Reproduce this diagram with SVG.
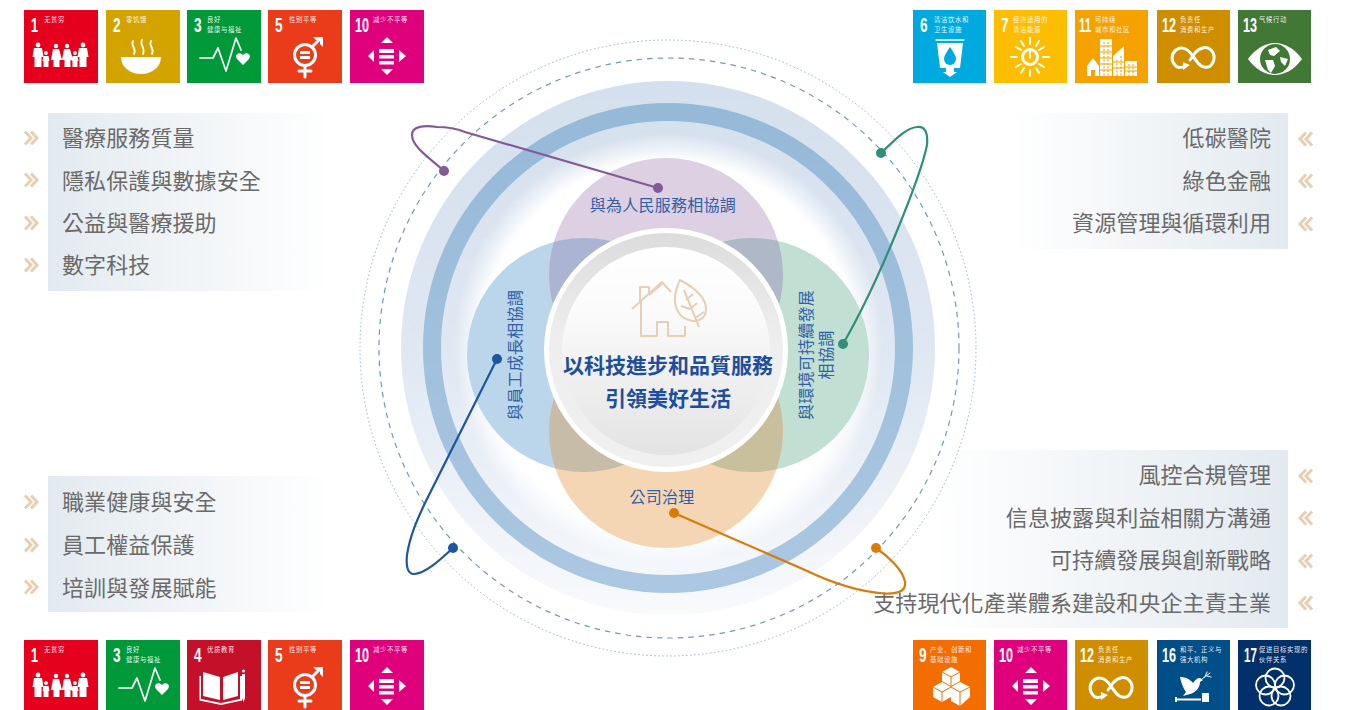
<svg xmlns="http://www.w3.org/2000/svg" width="1348" height="710" viewBox="0 0 1348 710">
<style>
text{font-family:"Noto Sans CJK TC","Noto Sans CJK SC","Liberation Sans",sans-serif}
.n{font-family:"Liberation Sans",Arial,sans-serif;font-weight:700;font-size:21px;fill:#fff}
.l{font-family:"Noto Sans CJK SC","Noto Sans",sans-serif;font-size:6.400px;letter-spacing:.6px;fill:#fff;fill-opacity:.92}
.t{font-size:22px;letter-spacing:.1px;fill:#6a6a6a}
.e{text-anchor:end}
.v{font-size:16px;letter-spacing:.25px;fill:#2f5fa5;text-anchor:middle}
.c{font-size:21px;font-weight:700;fill:#1e4f9e;text-anchor:middle}
.ch{fill:none;stroke:#e8cfb4;stroke-width:3}
.w{fill:#fff}
.s{fill:none;stroke:#fff;stroke-linecap:round;stroke-linejoin:round}
.cn{fill:none;stroke-width:2.200;stroke-linecap:round}
</style>
<defs>
<linearGradient id="pl" x1="0" x2="1" y1="0" y2="0"><stop offset="0" stop-color="#e3eaef"/><stop offset="1" stop-color="#fff"/></linearGradient>
<linearGradient id="pr" x1="1" x2="0" y1="0" y2="0"><stop offset="0" stop-color="#e3eaef"/><stop offset="1" stop-color="#fff"/></linearGradient>
<linearGradient id="band" x1="0" x2="0" y1="0" y2="1"><stop offset="0" stop-color="#d4e0ed"/><stop offset=".5" stop-color="#dfe7f2"/><stop offset="1" stop-color="#f8fafc"/></linearGradient>
<radialGradient id="halo" gradientUnits="userSpaceOnUse" cx="668" cy="348" r="268"><stop offset="0" stop-color="#fff"/><stop offset=".7" stop-color="#fff"/><stop offset=".8" stop-color="#fff" stop-opacity="0"/><stop offset="1" stop-color="#fff" stop-opacity="0"/></radialGradient>
<linearGradient id="ringG" x1="0" x2="0" y1="0" y2="1"><stop offset="0" stop-color="#96b9d8"/><stop offset="1" stop-color="#abc7e1"/></linearGradient>
<linearGradient id="rim" x1="0" x2="0" y1="0" y2="1"><stop offset="0" stop-color="#dcdcdc"/><stop offset=".45" stop-color="#eeeeee"/><stop offset="1" stop-color="#f0f0f0"/></linearGradient>
<linearGradient id="core" x1="0" x2="0" y1="0" y2="1"><stop offset="0" stop-color="#fff"/><stop offset=".3" stop-color="#fbfbfb"/><stop offset="1" stop-color="#e3e3e3"/></linearGradient>
<clipPath id="cT"><circle cx="666" cy="275" r="117"/></clipPath>
<clipPath id="cB"><circle cx="666" cy="431" r="117"/></clipPath>
<g id="chev"><path class="ch" d="M-7 -6.500L-1 0L-7 6.500M-1 -6.500L5 0L-1 6.500"/></g>
<g id="i1"><g class="w"><circle cx="14" cy="35" r="2.400"/><path d="M10 38h8l1.500 9h-2v10h-7V47h-2z"/><circle cx="32" cy="36" r="2.200"/><path d="M29 39h6l3 11h-2.500v7h-6V50H27z"/><circle cx="43" cy="36" r="2.200"/><path d="M40 39h6l3 11h-2.500v7h-6V50H38z"/><circle cx="59" cy="35" r="2.400"/><path d="M55 38h8l1.500 9h-2v10h-7V47h-2z"/><circle cx="22" cy="43" r="1.900"/><path d="M19.500 46h5l1 5h-1v6h-5v-6h-1z"/><circle cx="51" cy="43" r="1.900"/><path d="M48.500 46h5l1 5h-1v6h-5v-6h-1z"/></g></g>
<g id="i2"><path class="w" d="M15 47H55C55 57 46 64 35 64S15 57 15 47Z"/><path class="s" stroke-width="1.800" d="M27 31c-3 5 4 7 1 13M36 30c-3 5 4 8 1 14M45 31c-3 5 4 7 1 13"/></g>
<g id="i3"><path class="s" stroke-width="1.700" d="M13 48H26L31 38L39 61L49 28L54 40"/><path class="w" d="M56 55L50 49C47 45 52 41 56 45C60 41 65 45 62 49Z"/></g>
<g id="i4"><path class="w" d="M16 32L33 37V60L16 56ZM51 32L36 37V60L51 56ZM14 36V59L34 63L53 59V36H55V60.500L34 65L12.500 60.500V36Z"/><path class="w" d="M55 34h3v24l-1.500 4-1.500-4z"/><circle class="w" cx="56.500" cy="31" r="1.500"/></g>
<g id="i5"><circle class="s" stroke-width="3" cx="37" cy="45" r="10.500"/><path class="w" d="M32 41h10v3H32zM32 46h10v3H32z"/><path class="s" stroke-width="3" d="M37 56V67M31 61H43M44 37L52 29"/><path class="w" d="M45 27H55V37L52 34V30H48Z"/></g>
<g id="i6"><path class="s" stroke-width="1.300" d="M23 30H51"/><path class="w" d="M24 33H50L47 58H41V62H44L37 67L30 62H33V58H27Z"/><path fill="#00aade" d="M37 37C41 43 43 46 43 49A6 6 0 0 1 31 49C31 46 33 43 37 37Z"/></g>
<g id="i7"><circle class="s" stroke-width="3" cx="36" cy="47" r="7.500"/><path class="s" stroke-width="2" d="M36 42V48"/><path class="s" stroke-width="2" d="M36 28V34M36 60V66M17 47H23M49 47H55M22 37L27 40M45 54L50 57M22 57L27 54M45 40L50 37M27 31L30 36M42 58L45 63M27 63L30 58M42 36L45 31"/></g>
<g id="i9"><path class="w" d="M38 27L47 32V41L38 46L29 41V32ZM29 42L38 47V57L29 62L20 57V47ZM47 42L57 47V57L47 66L38 61V47Z"/><path fill="none" stroke="#f36d00" stroke-width="1" d="M29 32L38 37L47 32M38 37V46M20 47L29 52L38 47M29 52V62M38 47L47 52L57 47M47 52V66"/></g>
<g id="i10"><path class="w" d="M37 27L43 33H31ZM37 65L31 59H43ZM18 46L24 40V52ZM56 46L49 40V52ZM29 39H44V43H29ZM29 45H44V48.500H29ZM29 51H44V54.500H29Z"/></g>
<g id="i11"><path class="w" d="M12 56L18 48L24 56V66H20V60H16V66H12ZM25 29H37V66H25ZM38 66V46L49 36V66ZM50 51H62V66H50Z"/><path fill="none" stroke="#f5a200" stroke-width="1.100" stroke-dasharray="2 1.500" d="M29 32V66M33 32V66M42 50V66M46 46V66M54 54V66M58 54V66"/><path fill="none" stroke="#f5a200" stroke-width="1" d="M25 36H37M25 42H37M25 48H37M25 54H37M25 60H37M38 52H49M38 58H49M50 57H62M50 61H62"/></g>
<g id="i12"><path class="s" stroke-width="3" d="M28 56C24 58 20 58 18 55C14 51 14 44 19 40C24 36 30 38 35 45L41 53C45 58 52 59 55 54C58 50 58 44 54 40C50 36 43 37 38 43L33 50"/><path class="w" d="M26 52L33 55L26 60Z"/></g>
<g id="i13"><path class="w" d="M10 49C18 38 28 33 37 33S56 38 64 49C56 60 46 65 37 65S18 60 10 49Z"/><circle fill="#427835" cx="37" cy="49" r="15"/><path class="w" d="M30 40L38 37L42 41L36 46L32 45ZM27 50L35 50L37 56L33 63L30 60ZM42 47L50 49L47 56L43 52Z"/></g>
<g id="i16"><path class="w" d="M23 37C28 37 33 39 36 43C38 40 40 38 43 38L46 40L43 42C43 48 38 53 33 54L26 56L29 52C26 48 24 42 23 37Z"/><path class="s" stroke-width="1" d="M45 39L53 33M48 37L50 32M50 36L54 37"/><path class="w" d="M18 58.500H44V60.500H18ZM45 53H52V62H45ZM18 57H20V62H18Z"/></g>
<g id="i17"><g class="s" stroke-width="1.800"><circle cx="37" cy="38" r="9.500"/><circle cx="46.500" cy="45" r="9.500"/><circle cx="43" cy="56" r="9.500"/><circle cx="31" cy="56" r="9.500"/><circle cx="27.500" cy="45" r="9.500"/></g></g>
</defs>
<rect width="1348" height="710" fill="#fff"/>

<g id="panel-top-left"><rect x="48" y="113" width="282" height="178" fill="url(#pl)"/><use href="#chev" x="32" y="138"/><use href="#chev" x="32" y="180"/><use href="#chev" x="32" y="223"/><use href="#chev" x="32" y="265"/>
<text class="t" x="62" y="146">醫療服務質量</text><text class="t" x="62" y="189">隱私保護與數據安全</text><text class="t" x="62" y="231">公益與醫療援助</text><text class="t" x="62" y="273">數字科技</text></g>
<g id="panel-bottom-left"><rect x="48" y="476" width="282" height="136" fill="url(#pl)"/><use href="#chev" x="32" y="502"/><use href="#chev" x="32" y="545"/><use href="#chev" x="32" y="587"/>
<text class="t" x="62" y="510">職業健康與安全</text><text class="t" x="62" y="553">員工權益保護</text><text class="t" x="62" y="596">培訓與發展賦能</text></g>
<g id="panel-top-right"><rect x="1010" y="113" width="278" height="136" fill="url(#pr)"/><use href="#chev" transform="translate(1305 139) scale(-1 1)"/><use href="#chev" transform="translate(1305 181) scale(-1 1)"/><use href="#chev" transform="translate(1305 224) scale(-1 1)"/>
<text class="t e" x="1271" y="146">低碳醫院</text><text class="t e" x="1271" y="189">綠色金融</text><text class="t e" x="1271" y="231">資源管理與循環利用</text></g>
<g id="panel-bottom-right"><rect x="930" y="450" width="358" height="178" fill="url(#pr)"/><use href="#chev" transform="translate(1305 476) scale(-1 1)"/><use href="#chev" transform="translate(1305 518) scale(-1 1)"/><use href="#chev" transform="translate(1305 561) scale(-1 1)"/><use href="#chev" transform="translate(1305 603) scale(-1 1)"/>
<text class="t e" x="1271" y="483">風控合規管理</text><text class="t e" x="1271" y="526">信息披露與利益相關方溝通</text><text class="t e" x="1271" y="568">可持續發展與創新戰略</text><text class="t e" x="1271" y="611">支持現代化產業體系建設和央企主責主業</text></g>

<g id="rings">
<circle cx="668" cy="348" r="267" fill="url(#band)"/>
<circle cx="668" cy="348" r="268" fill="url(#halo)"/>
<circle cx="668" cy="348" r="236" fill="none" stroke="url(#ringG)" stroke-width="18"/>
<circle cx="669" cy="348" r="290" fill="none" stroke="#6b9bbd" stroke-width="1.200" stroke-dasharray="5.500 5"/>
<circle cx="668" cy="348" r="308" fill="none" stroke="#8fb3cc" stroke-width="1" stroke-dasharray="1.500 2.500"/>
</g>
<g id="venn-top"><circle cx="666" cy="275" r="117" fill="#dcd0e2"/><text class="v" x="663" y="211">與為人民服務相協調</text></g>
<g id="venn-left"><circle cx="584" cy="355" r="117" fill="#bbd5ea"/><text class="v" transform="translate(521 355) rotate(-90)">與員工成長相協調</text></g>
<g id="venn-right"><circle cx="752" cy="355" r="117" fill="#c1dfd3"/><text class="v" transform="translate(812 355) rotate(-90)">與環境可持續發展</text><text class="v" transform="translate(832 355) rotate(-90)">相協調</text></g>
<g id="venn-bottom"><circle cx="666" cy="431" r="117" fill="#f4d6b4"/><text class="v" x="662" y="503">公司治理</text></g>
<g id="venn-overlaps">
<circle cx="584" cy="355" r="117" fill="#abb5d3" clip-path="url(#cT)"/>
<circle cx="752" cy="355" r="117" fill="#aeb8c6" clip-path="url(#cT)"/>
<circle cx="584" cy="355" r="117" fill="#c6bca8" clip-path="url(#cB)"/>
<circle cx="752" cy="355" r="117" fill="#c8c09d" clip-path="url(#cB)"/>
</g>
<g id="center">
<circle cx="666" cy="350" r="122" fill="#fff"/><circle cx="666" cy="350" r="117" fill="url(#rim)"/><circle cx="666" cy="351" r="104" fill="url(#core)"/>
<g fill="none" stroke="#e6d0b5" stroke-width="2" stroke-linejoin="round"><path d="M632 309L662 282L671 292M640 302V287H649V294M641 301V336H657V322H668V336H685V326M649 295L662 284"/><path d="M680 280C695 288 706 298 706 309C706 321 695 322 689 320C679 318 674 306 675 298C675 290 678 285 680 280ZM684 290L699 327M686 300L693 294M690 309L697 303M690 309L681 306M695 318L704 312"/></g>
<text class="c" x="668" y="373">以科技進步和品質服務</text><text class="c" x="668" y="406">引領美好生活</text></g>

<g id="connectors">
<path class="cn" stroke="#835a98" d="M444 171C430 158 412 147 412 135C412 126 425 125 437 127C445 127 455 128 465 132L658 188"/><circle cx="444" cy="171" r="5" fill="#835a98"/><circle cx="658" cy="188" r="5" fill="#835a98"/>
<path class="cn" stroke="#2f8f78" d="M881 153C893 142 905 128 917 127C926 126 928 134 927 145C921 175 880 280 843 344"/><circle cx="881" cy="153" r="5" fill="#2f8f78"/><circle cx="843" cy="344" r="5" fill="#2f8f78"/>
<path class="cn" stroke="#1e56a0" d="M453 548C440 560 425 574 414 574C407 574 406 565 407 555C410 535 418 518 425 503L497 359"/><circle cx="497" cy="359" r="5" fill="#1e56a0"/><circle cx="453" cy="548" r="5" fill="#1e56a0"/>
<path class="cn" stroke="#d97b0a" d="M674 513L805 570C830 582 860 592 885 593.500C900 594 906 590 905 582C903 570 888 556 876 548"/><circle cx="674" cy="513" r="5" fill="#d97b0a"/><circle cx="876" cy="548" r="5" fill="#d97b0a"/>
</g>

<g id="sdg-tl1" transform="translate(24 10)"><rect width="74" height="73" fill="#e5001e"/><text class="n" transform="translate(7 22) scale(.6 1)">1</text><text class="l" x="20" y="12">无贫穷</text><use href="#i1"/></g>
<g id="sdg-tl2" transform="translate(106 10)"><rect width="74" height="73" fill="#d3a400"/><text class="n" transform="translate(7 22) scale(.65 1)">2</text><text class="l" x="20" y="12">零饥饿</text><use href="#i2"/></g>
<g id="sdg-tl3" transform="translate(187 10)"><rect width="74" height="73" fill="#00993a"/><text class="n" transform="translate(7 22) scale(.65 1)">3</text><text class="l" x="20" y="12">良好</text><text class="l" x="20" y="21.500">健康与福祉</text><use href="#i3"/></g>
<g id="sdg-tl5" transform="translate(268 10)"><rect width="74" height="73" fill="#ea3b1a"/><text class="n" transform="translate(7 22) scale(.65 1)">5</text><text class="l" x="21" y="12">性别平等</text><use href="#i5"/></g>
<g id="sdg-tl10" transform="translate(350 10)"><rect width="74" height="73" fill="#df007c"/><text class="n" transform="translate(5 22) scale(.6 1)">10</text><text class="l" x="23" y="12">减少不平等</text><use href="#i10"/></g>

<g id="sdg-tr6" transform="translate(913 10)"><rect width="73" height="73" fill="#00aade"/><text class="n" transform="translate(7 22) scale(.65 1)">6</text><text class="l" x="21" y="12">清洁饮水和</text><text class="l" x="21" y="21.500">卫生设施</text><use href="#i6"/></g>
<g id="sdg-tr7" transform="translate(994 10)"><rect width="73" height="73" fill="#fdbd00"/><text class="n" transform="translate(7 22) scale(.65 1)">7</text><text class="l" x="19" y="12">经济适用的</text><text class="l" x="19" y="21.500">清洁能源</text><use href="#i7"/></g>
<g id="sdg-tr11" transform="translate(1075 10)"><rect width="73" height="73" fill="#f5a200"/><text class="n" transform="translate(4 22) scale(.55 1)">11</text><text class="l" x="20" y="12">可持续</text><text class="l" x="20" y="21.500">城市和社区</text><use href="#i11"/></g>
<g id="sdg-tr12" transform="translate(1157 10)"><rect width="73" height="73" fill="#cf8d00"/><text class="n" transform="translate(5 22) scale(.6 1)">12</text><text class="l" x="23" y="12">负责任</text><text class="l" x="23" y="21.500">消费和生产</text><use href="#i12"/></g>
<g id="sdg-tr13" transform="translate(1238 10)"><rect width="73" height="73" fill="#427835"/><text class="n" transform="translate(5 22) scale(.6 1)">13</text><text class="l" x="21" y="12">气候行动</text><use href="#i13"/></g>

<g id="sdg-bl1" transform="translate(24 640)"><rect width="74" height="73" fill="#e5001e"/><text class="n" transform="translate(7 22) scale(.6 1)">1</text><text class="l" x="20" y="12">无贫穷</text><use href="#i1"/></g>
<g id="sdg-bl3" transform="translate(106 640)"><rect width="74" height="73" fill="#00993a"/><text class="n" transform="translate(7 22) scale(.65 1)">3</text><text class="l" x="20" y="12">良好</text><text class="l" x="20" y="21.500">健康与福祉</text><use href="#i3"/></g>
<g id="sdg-bl4" transform="translate(187 640)"><rect width="74" height="73" fill="#c5102a"/><text class="n" transform="translate(7 22) scale(.65 1)">4</text><text class="l" x="20" y="12">优质教育</text><use href="#i4"/></g>
<g id="sdg-bl5" transform="translate(268 640)"><rect width="74" height="73" fill="#ea3b1a"/><text class="n" transform="translate(7 22) scale(.65 1)">5</text><text class="l" x="21" y="12">性别平等</text><use href="#i5"/></g>
<g id="sdg-bl10" transform="translate(350 640)"><rect width="74" height="73" fill="#df007c"/><text class="n" transform="translate(5 22) scale(.6 1)">10</text><text class="l" x="23" y="12">减少不平等</text><use href="#i10"/></g>

<g id="sdg-br9" transform="translate(913 640)"><rect width="73" height="73" fill="#f36d00"/><text class="n" transform="translate(6 22) scale(.65 1)">9</text><text class="l" x="17" y="12">产业、创新和</text><text class="l" x="17" y="21.500">基础设施</text><use href="#i9"/></g>
<g id="sdg-br10" transform="translate(994 640)"><rect width="73" height="73" fill="#df007c"/><text class="n" transform="translate(5 22) scale(.6 1)">10</text><text class="l" x="23" y="12">减少不平等</text><use href="#i10"/></g>
<g id="sdg-br12" transform="translate(1075 640)"><rect width="73" height="73" fill="#cf8d00"/><text class="n" transform="translate(5 22) scale(.6 1)">12</text><text class="l" x="23" y="12">负责任</text><text class="l" x="23" y="21.500">消费和生产</text><use href="#i12"/></g>
<g id="sdg-br16" transform="translate(1157 640)"><rect width="73" height="73" fill="#004f89"/><text class="n" transform="translate(5 22) scale(.6 1)">16</text><text class="l" x="23" y="12">和平、正义与</text><text class="l" x="23" y="21.500">强大机构</text><use href="#i16"/></g>
<g id="sdg-br17" transform="translate(1238 640)"><rect width="73" height="73" fill="#02306a"/><text class="n" transform="translate(6 22) scale(.55 1)">17</text><text class="l" x="21" y="12">促进目标实现的</text><text class="l" x="21" y="21.500">伙伴关系</text><use href="#i17"/></g>
</svg>
